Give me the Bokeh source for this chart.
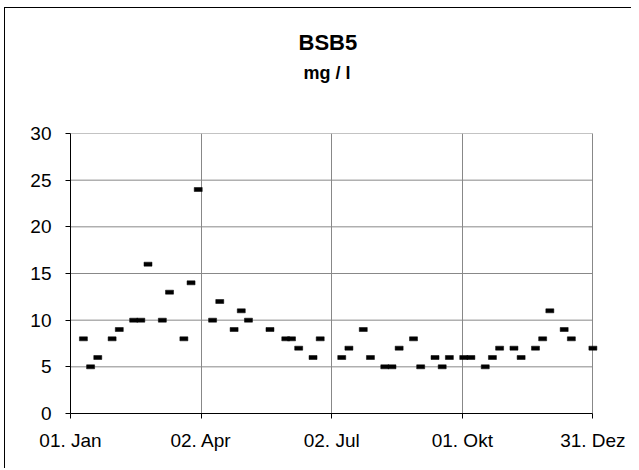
from bokeh.plotting import figure
from bokeh.models import Range1d, FixedTicker, Title
from bokeh.embed import file_html
from bokeh.resources import INLINE

# Day offsets from 01. Jan and BSB5 values (mg/l)
days = [9, 14, 19, 29, 34, 44, 49, 54, 64, 69, 79, 84, 89, 99, 104, 114, 119, 124,
        139, 150, 154, 159, 169, 174, 189, 194, 204, 209, 219, 224, 229, 239, 244,
        254, 259, 264, 274, 279, 289, 294, 299, 309, 314, 324, 329, 334, 344, 349, 364]
values = [8, 5, 6, 8, 9, 10, 10, 16, 10, 13, 8, 14, 24, 10, 12, 9, 11, 10,
          9, 8, 8, 7, 6, 8, 6, 7, 9, 6, 5, 5, 7, 8, 5,
          6, 5, 6, 6, 6, 5, 6, 7, 7, 6, 7, 8, 11, 9, 8, 7]

x_ticks = [0, 91, 182, 273, 364]
x_labels = ["01. Jan", "02. Apr", "02. Jul", "01. Okt", "31. Dez"]
y_ticks = [0, 5, 10, 15, 20, 25, 30]
title_text = "BSB5"
unit_text = "mg / l"

FONT = "Liberation Sans"

p = figure(frame_width=531, frame_height=280,
           x_range=Range1d(0, 370), y_range=Range1d(0, 30),
           output_backend="svg", toolbar_location=None, title=None,
           min_border_left=65, min_border_right=30,
           min_border_top=125, min_border_bottom=55,
           outline_line_color=None, background_fill_color="white",
           border_fill_color="white")
p.margin = (7, 0, 0, 4)
p.styles = {"border-left": "1px solid #000", "border-top": "1px solid #000"}

# horizontal gridlines (limited to the date span)
p.ygrid.visible = False
p.segment(x0=[x_ticks[0]] * (len(y_ticks) - 1), x1=[x_ticks[-1]] * (len(y_ticks) - 1),
          y0=y_ticks[1:], y1=y_ticks[1:], line_color="#888888", line_width=1)

p.xgrid.ticker = FixedTicker(ticks=x_ticks)
p.xgrid.grid_line_color = "#888888"

# data dashes
p.rect(x=days, y=values, width=8, height=4, width_units="screen",
       height_units="screen", fill_color="black", line_color="black", line_width=0.5)

# axes
p.xaxis.ticker = FixedTicker(ticks=x_ticks)
p.xaxis.major_label_overrides = {t: l for t, l in zip(x_ticks, x_labels)}
p.xaxis.bounds = (x_ticks[0], x_ticks[-1])
p.yaxis.ticker = FixedTicker(ticks=y_ticks)
for ax in (p.xaxis[0], p.yaxis[0]):
    ax.axis_line_color = "black"
    ax.axis_line_width = 1
    ax.major_tick_line_color = "black"
    ax.major_tick_out = 5
    ax.major_tick_in = 0
    ax.minor_tick_line_color = None
    ax.major_label_text_font = FONT
    ax.major_label_text_font_size = "19px"
    ax.major_label_text_color = "black"
p.xaxis.major_label_standoff = 11
p.yaxis.major_label_standoff = 14

# titles: spacer nearest the plot, then unit line, then main title
p.add_layout(Title(text=" ", text_font_size="1px", standoff=48), "above")
p.add_layout(Title(text=unit_text, align="left", offset=233, text_font=FONT,
                   text_font_size="18px", text_font_style="bold",
                   text_color="black", standoff=0), "above")
p.add_layout(Title(text=title_text, align="left", offset=228, text_font=FONT,
                   text_font_size="22px", text_font_style="bold",
                   text_color="black", standoff=11), "above")

open("out.html", "w").write(file_html(p, INLINE))
